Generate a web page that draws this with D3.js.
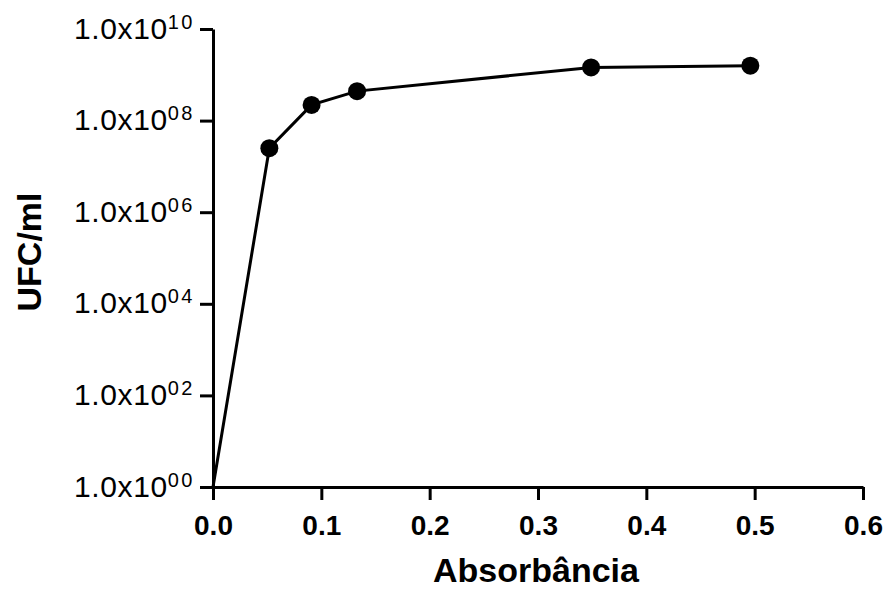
<!DOCTYPE html>
<html>
<head>
<meta charset="utf-8">
<script src="https://cdn.jsdelivr.net/npm/d3@7/dist/d3.min.js"></script>
<style>
  html, body { margin: 0; padding: 0; background: #fff; }
  svg { display: block; }
</style>
</head>
<body>
<svg id="chart" width="891" height="589"></svg>
<script>
// Data
const absorbance = [0.0, 0.052, 0.091, 0.133, 0.349, 0.496];
const ufc = [1, 2.5e7, 2.2e8, 4.4e8, 1.45e9, 1.58e9];
const xTicks = [0.0, 0.1, 0.2, 0.3, 0.4, 0.5, 0.6];
const yTicks = [1, 1e2, 1e4, 1e6, 1e8, 1e10];
const yTickExp = ["00", "02", "04", "06", "08", "10"];
const xTitle = "Absorbância";
const yTitle = "UFC/ml";

const svg = d3.select("#chart");
const font = "'Liberation Sans', Arial, Helvetica, sans-serif";

const x = d3.scaleLinear().domain([0, 0.6]).range([213, 863]);
const y = d3.scaleLog().domain([1, 1e10]).range([487, 29]);

// X axis
const gx = svg.append("g")
  .attr("transform", `translate(0,${y(1)})`)
  .call(d3.axisBottom(x).tickValues(xTicks).tickFormat(d3.format(".1f")).tickSize(13).tickSizeOuter(0));
gx.select(".domain").attr("stroke", "#000").attr("stroke-width", 3);
gx.selectAll(".tick line").attr("stroke", "#000").attr("stroke-width", 3);
gx.selectAll(".tick text")
  .attr("font-family", font).attr("font-size", 28).attr("font-weight", "bold")
  .attr("fill", "#000").attr("dy", null).attr("y", 48);

// Y axis
const gy = svg.append("g")
  .attr("transform", `translate(${x(0)},0)`)
  .call(d3.axisLeft(y).tickValues(yTicks).tickSize(13).tickSizeOuter(0));
gy.select(".domain").attr("stroke", "#000").attr("stroke-width", 3);
gy.selectAll(".tick line").attr("stroke", "#000").attr("stroke-width", 3);
gy.selectAll(".tick text").each(function(d, i) {
  const t = d3.select(this);
  t.text(null)
    .attr("font-family", font).attr("font-size", 30)
    .attr("fill", "#000").attr("dy", null).attr("x", -18).attr("y", 9)
    .attr("text-anchor", "end");
  t.append("tspan").attr("letter-spacing", 0.6).text("1.0x10");
  t.append("tspan").attr("font-size", 20).attr("letter-spacing", 2.5).attr("dy", -10).text(yTickExp[i]);
});

// Line
const line = d3.line().x((d, i) => x(absorbance[i])).y(d => y(d));
svg.append("path")
  .datum(ufc)
  .attr("d", line)
  .attr("fill", "none")
  .attr("stroke", "#000")
  .attr("stroke-width", 3);

// Markers (the origin point has no visible marker)
svg.selectAll("circle.pt")
  .data(ufc.map((v, i) => ({ x: absorbance[i], y: v })).filter(d => d.x > 0))
  .enter().append("circle")
  .attr("class", "pt")
  .attr("cx", d => x(d.x))
  .attr("cy", d => y(d.y))
  .attr("r", 9)
  .attr("fill", "#000");

// Titles
svg.append("text")
  .attr("x", 536).attr("y", 582)
  .attr("text-anchor", "middle")
  .attr("font-family", font).attr("font-size", 34).attr("font-weight", "bold")
  .text(xTitle);

svg.append("text")
  .attr("transform", `translate(41,252) rotate(-90)`)
  .attr("text-anchor", "middle")
  .attr("font-family", font).attr("font-size", 34).attr("font-weight", "bold")
  .text(yTitle);
</script>
</body>
</html>
